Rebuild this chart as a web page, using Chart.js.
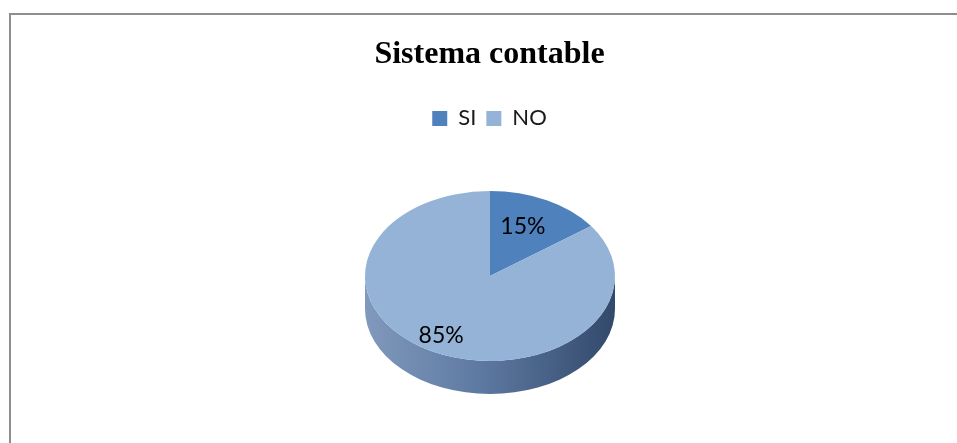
<!DOCTYPE html>
<html>
<head>
<meta charset="utf-8">
<script src="https://cdn.jsdelivr.net/npm/chart.js@4.4.0/dist/chart.umd.min.js"></script>
<style>
	html, body { margin: 0; padding: 0; background: #fff; }
	#wrap { position: relative; width: 957px; height: 443px; overflow: hidden; }
	#frame { position: absolute; left: 9px; top: 13px; right: -5px; bottom: -5px;
		border-top: 2px solid #8e8e8e; border-left: 2px solid #8e8e8e; }
	canvas { position: absolute; left: 0; top: 0; }
</style>
</head>
<body>
<div id="wrap">
	<div id="frame"></div>
	<canvas id="pie" width="957" height="443"></canvas>
</div>
<script>
var labels = ['SI', 'NO'];
var values = [15, 85];
var colors = ['#4f81bd', '#95b3d7'];
var title = 'Sistema contable';

// look of the tilted pie (screen pixels)
var tilt = { cx: 490, cy: 276, rx: 125, ry: 85, depth: 33 };

function squash(chart) {
	var arc = chart.getDatasetMeta(0).data[0];
	return {
		x: arc.x, y: arc.y, r: arc.outerRadius,
		sx: tilt.rx / arc.outerRadius, sy: tilt.ry / arc.outerRadius
	};
}

var tiltPlugin = {
	id: 'tilt',
	beforeDatasetsDraw: function (chart) {
		var ctx = chart.ctx;
		var s = squash(chart);

		// side wall of the pie
		ctx.save();
		var grad = ctx.createLinearGradient(tilt.cx - tilt.rx, 0, tilt.cx + tilt.rx, 0);
		grad.addColorStop(0, '#8099bc');
		grad.addColorStop(0.45, '#5f7aa2');
		grad.addColorStop(1, '#32496b');
		ctx.fillStyle = grad;
		ctx.beginPath();
		ctx.ellipse(tilt.cx, tilt.cy, tilt.rx, tilt.ry, 0, 0, Math.PI, false);
		ctx.lineTo(tilt.cx - tilt.rx, tilt.cy + tilt.depth);
		ctx.ellipse(tilt.cx, tilt.cy + tilt.depth, tilt.rx, tilt.ry, 0, Math.PI, 0, true);
		ctx.closePath();
		ctx.fill();
		ctx.restore();

		ctx.save();
		ctx.translate(tilt.cx, tilt.cy);
		ctx.scale(s.sx, s.sy);
		ctx.translate(-s.x, -s.y);
	},
	afterDatasetsDraw: function (chart) {
		var ctx = chart.ctx;
		ctx.restore();

		var total = values.reduce(function (a, b) { return a + b; }, 0);
		ctx.save();
		ctx.font = '23px Lato, "Open Sans", sans-serif';
		ctx.fillStyle = '#000';
		ctx.textAlign = 'center';
		ctx.textBaseline = 'middle';
		chart.getDatasetMeta(0).data.forEach(function (arc, i) {
			var mid = (arc.startAngle + arc.endAngle) / 2;
			var x = tilt.cx + Math.cos(mid) * tilt.rx * 0.72 - 8;
			var y = tilt.cy + Math.sin(mid) * tilt.ry * 0.72 + 5;
			ctx.fillText(Math.round(values[i] / total * 100) + '%', x, y);
		});
		ctx.restore();
	}
};

window.onload = function () {
	var ctx = document.getElementById('pie').getContext('2d');

	var myChart = new Chart(ctx, {
		type: 'pie',
		data: {
			labels: labels,
			datasets: [{
				data: values,
				backgroundColor: colors,
				borderWidth: 0
			}]
		},
		options: {
			responsive: false,
			animation: false,
			events: [],
			layout: { padding: { left: 42, right: 20, bottom: 20 } },
			plugins: {
				title: {
					display: true,
					text: title,
					color: '#000',
					font: { family: '"Liberation Serif", "Times New Roman", serif', size: 32, weight: 'bold' },
					padding: { top: 36, bottom: 23 }
				},
				legend: {
					position: 'top',
					labels: {
						color: '#1a1a1a',
						boxWidth: 15,
						boxHeight: 15,
						font: { family: 'Lato, "Open Sans", sans-serif', size: 22 }
					}
				},
				tooltip: { enabled: false }
			}
		},
		plugins: [tiltPlugin]
	});
};
</script>
</body>
</html>
